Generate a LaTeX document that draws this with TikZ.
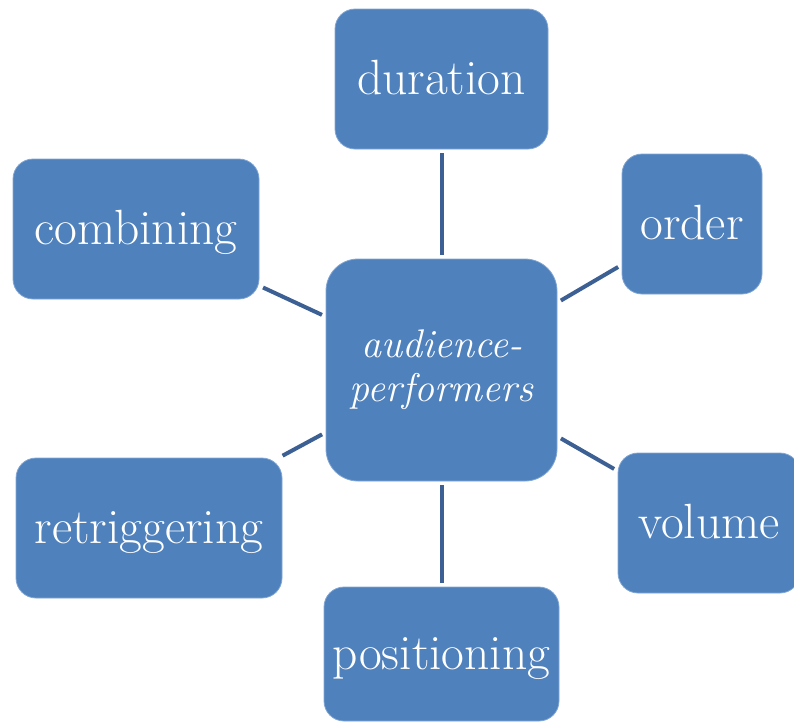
\documentclass[tikz,border=0pt]{standalone}
\usetikzlibrary{calc}
\definecolor{boxblue}{RGB}{79,129,189}
\definecolor{boxedge}{RGB}{130,166,212}
\definecolor{linkblue}{RGB}{61,96,148}
\tikzset{
  box/.style={rectangle, rounded corners=20pt, fill=boxblue, draw=boxedge, line width=0.8pt,
    inner sep=0pt, text=white, font=\fontsize{49.5}{54}\selectfont,
    text height=37pt, text depth=7pt},
  hub/.style={rectangle, rounded corners=32pt, fill=boxblue, draw=boxedge, line width=0.8pt,
    inner sep=0pt, text=white, align=center, font=\fontsize{40}{44}\selectfont\itshape},
  link/.style={draw=linkblue, line width=4pt, shorten <=4pt, shorten >=4pt}
}
\begin{document}
\begin{tikzpicture}[x=1pt, y=-1pt]
\useasboundingbox (0,0) rectangle (794,724);
\node[hub, minimum width=231pt, minimum height=222pt] (hub) at (441.5,370) {audience-\\performers};
\node[box, minimum width=213pt, minimum height=140pt] (dur) at (441.5,79) {duration};
\node[box, minimum width=246pt, minimum height=140pt] (comb) at (136,229) {combining};
\node[box, minimum width=140pt, minimum height=140pt] (ord) at (692,224) {order};
\node[box, minimum width=266pt, minimum height=140pt] (retr) at (149,528) {retriggering};
\node[box, minimum width=182pt, minimum height=140pt] (vol) at (709,523) {volume};
\node[box, minimum width=235pt, minimum height=134pt] (pos) at (441.5,654) {positioning};
\draw[link] (hub) -- (dur);
\draw[link] (hub) -- (comb);
\draw[link] (hub) -- (ord);
\draw[link] (hub) -- (retr);
\draw[link] (hub) -- (vol);
\draw[link] (hub) -- (pos);
\end{tikzpicture}
\end{document}
